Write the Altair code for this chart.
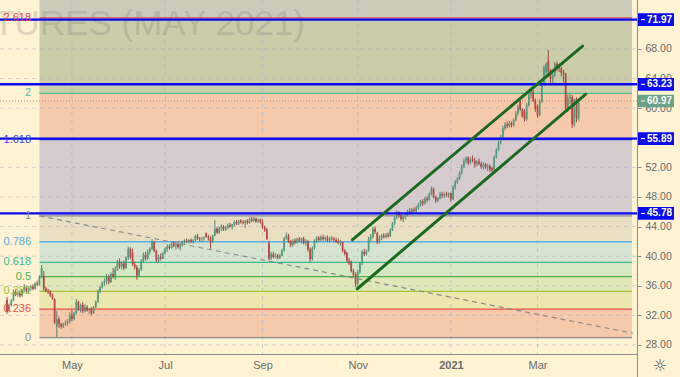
import altair as alt
import pandas as pd

# ---------------- data ----------------
bar_open = [
    34.1, 32.6, 33.4, 34.0, 35.2, 34.8, 35.1, 34.7, 35.4, 35.8,
    35.2, 35.6, 35.9, 35.6, 36.3, 36.1, 37.2, 37.3, 35.6, 35.3,
    35.2, 34.7, 34.2, 30.5, 31.5, 30.8, 30.5, 30.8, 31.0, 31.2,
    32.0, 31.5, 32.3, 33.8, 32.8, 33.4, 32.6, 33.1, 32.7, 32.9,
    32.3, 33.1, 33.8, 35.3, 35.8, 36.4, 36.7, 37.2, 36.5, 37.6,
    37.3, 38.3, 39.2, 38.6, 39.0, 38.4, 39.8, 41.0, 40.5, 38.9,
    38.5, 37.4, 38.2, 39.4, 40.2, 39.7, 40.6, 41.0, 41.9, 40.7,
    39.4, 39.9, 39.7, 40.4, 41.0, 41.3, 41.1, 41.7, 41.4, 41.6,
    41.2, 41.6, 41.9, 42.1, 42.0, 42.2, 41.9, 42.2, 42.7, 42.4,
    42.3, 42.4, 43.1, 42.6, 42.4, 42.0, 42.8, 43.7, 43.2, 43.8,
    44.0, 43.6, 43.9, 44.2, 44.0, 44.3, 44.6, 44.4, 44.8, 44.6,
    44.5, 44.7, 44.5, 45.0, 44.8, 45.1, 44.7, 44.9, 44.6, 43.9,
    43.6, 41.8, 39.7, 40.3, 39.9, 40.1, 39.8, 40.1, 40.8, 42.4,
    42.8, 42.0, 41.5, 42.1, 41.8, 42.3, 42.1, 42.4, 41.8, 42.0,
    40.9, 39.6, 41.1, 42.0, 42.5, 42.2, 42.6, 42.3, 42.5, 42.1,
    42.4, 42.3, 42.2, 42.0, 41.8, 41.9, 40.7, 40.4, 39.4, 39.2,
    38.0, 37.6, 36.3, 37.9, 39.0, 40.6, 40.3, 40.7, 42.3, 42.6,
    43.7, 43.1, 41.9, 42.5, 42.8, 42.6, 42.9, 42.7, 43.5, 44.4,
    45.2, 45.9, 45.6, 45.0, 45.3, 45.6, 46.1, 45.9, 46.3, 46.1,
    46.6, 47.0, 47.4, 47.1, 47.8, 47.6, 48.4, 49.1, 48.0, 47.5,
    47.8, 48.4, 48.2, 48.4, 48.3, 48.5, 47.7, 49.3, 50.0, 50.5,
    51.2, 52.1, 52.9, 53.3, 52.6, 53.1, 52.9, 52.4, 52.8, 52.5,
    52.1, 52.4, 52.0, 52.2, 51.9, 51.6, 53.4, 54.4, 55.3, 56.1,
    57.3, 57.8, 57.6, 58.0, 57.7, 58.4, 59.3, 61.0, 59.8, 59.6,
    58.5, 60.4, 61.8, 62.2, 61.0, 60.3, 59.0, 60.9, 63.3, 64.8,
    66.4, 65.0, 64.0, 64.4, 66.0, 65.6, 65.4, 64.8, 64.6, 60.0,
    61.4, 61.5, 57.8, 61.2, 58.6,
]
bar_high = [
    34.5, 33.6, 34.2, 35.5, 35.6, 35.3, 35.4, 35.6, 36.2, 36.0,
    35.8, 36.1, 36.2, 36.5, 36.7, 37.4, 38.8, 38.0, 35.9, 35.6,
    35.4, 35.0, 34.3, 32.6, 31.8, 31.0, 31.0, 31.3, 31.5, 32.4,
    32.8, 32.5, 34.2, 34.0, 33.6, 33.8, 33.5, 33.4, 33.0, 33.1,
    33.3, 34.0, 35.5, 36.0, 36.6, 37.0, 37.6, 37.5, 37.8, 38.4,
    38.6, 39.5, 39.7, 39.3, 39.4, 40.0, 41.3, 41.2, 41.0, 39.3,
    38.8, 38.4, 39.6, 40.5, 40.6, 40.9, 41.2, 42.3, 42.0, 40.9,
    40.2, 40.4, 40.6, 41.2, 41.6, 41.6, 41.9, 42.0, 41.8, 42.0,
    41.8, 42.1, 42.3, 42.4, 42.3, 42.4, 42.3, 42.9, 43.0, 42.6,
    42.6, 42.7, 43.2, 42.9, 42.7, 42.9, 44.9, 43.9, 44.0, 44.3,
    44.2, 44.1, 44.4, 44.5, 44.4, 44.8, 44.9, 44.9, 45.0, 44.9,
    44.9, 45.0, 45.2, 45.3, 45.3, 45.2, 45.1, 45.1, 45.0, 44.1,
    43.8, 42.0, 40.6, 40.6, 40.4, 40.3, 40.3, 41.0, 42.6, 43.2,
    43.0, 42.2, 42.3, 42.4, 42.5, 42.6, 42.5, 42.6, 42.3, 42.2,
    41.2, 41.3, 42.3, 42.7, 42.7, 42.8, 42.9, 42.7, 42.8, 42.6,
    42.7, 42.6, 42.5, 42.4, 42.2, 42.0, 41.0, 40.6, 39.8, 39.4,
    38.3, 37.8, 38.2, 39.2, 40.8, 41.0, 40.9, 42.6, 43.0, 44.0,
    44.0, 43.3, 42.8, 43.0, 43.1, 43.1, 43.2, 43.8, 44.6, 45.4,
    46.2, 46.1, 45.8, 45.5, 45.8, 46.3, 46.5, 46.5, 46.6, 46.8,
    47.2, 47.6, 47.7, 48.0, 48.1, 48.6, 49.4, 49.3, 48.2, 48.0,
    48.7, 48.7, 48.6, 48.7, 48.6, 48.6, 49.6, 50.3, 50.7, 51.5,
    52.4, 53.2, 53.5, 53.5, 53.4, 53.6, 53.3, 53.0, 53.2, 52.8,
    52.7, 52.6, 52.5, 52.4, 52.1, 53.6, 54.6, 55.6, 56.4, 57.6,
    58.1, 58.2, 58.3, 58.2, 58.6, 59.6, 60.5, 61.3, 60.0, 59.9,
    60.7, 62.1, 62.8, 62.5, 61.3, 60.5, 61.2, 63.5, 65.8, 66.2,
    67.9, 65.3, 64.8, 66.2, 66.3, 66.0, 65.6, 65.2, 64.8, 61.9,
    62.0, 61.8, 61.3, 61.5, 61.1,
]
bar_low = [
    32.2, 32.4, 33.2, 33.9, 34.6, 34.5, 34.4, 34.5, 35.1, 35.0,
    34.9, 35.3, 35.4, 35.5, 35.9, 36.0, 37.0, 35.3, 35.1, 34.9,
    34.5, 34.1, 30.8, 29.0, 30.3, 30.2, 30.3, 30.6, 30.6, 30.9,
    31.2, 31.3, 32.1, 32.6, 32.4, 32.3, 32.4, 32.5, 32.2, 32.0,
    32.2, 33.0, 33.7, 35.0, 35.6, 36.0, 36.2, 36.2, 36.4, 37.0,
    36.8, 38.0, 38.3, 38.2, 38.1, 38.3, 39.5, 39.6, 38.7, 38.2,
    36.8, 37.2, 38.0, 39.2, 39.4, 39.5, 40.2, 40.8, 40.5, 39.2,
    39.1, 39.4, 39.6, 40.2, 40.6, 40.9, 41.0, 41.2, 40.9, 41.0,
    40.8, 41.3, 41.7, 41.8, 41.7, 41.8, 41.7, 42.0, 42.2, 42.0,
    42.0, 42.1, 42.5, 42.1, 41.0, 41.8, 42.7, 43.0, 43.0, 43.4,
    43.4, 43.4, 43.6, 43.8, 43.6, 44.0, 44.2, 44.2, 44.4, 44.3,
    43.8, 44.3, 44.4, 44.6, 44.6, 44.5, 44.5, 44.4, 43.7, 43.3,
    42.2, 39.4, 39.5, 39.7, 39.7, 39.6, 39.6, 40.0, 40.6, 42.2,
    41.8, 41.2, 41.3, 41.6, 41.7, 41.9, 41.7, 41.6, 41.4, 40.6,
    39.2, 39.4, 40.9, 41.8, 42.0, 42.0, 42.1, 42.0, 41.9, 41.9,
    42.1, 41.9, 41.8, 41.6, 41.4, 40.5, 40.1, 39.2, 38.8, 37.8,
    37.2, 35.8, 35.9, 37.6, 38.8, 40.0, 40.1, 40.6, 42.0, 42.4,
    43.0, 41.6, 41.7, 42.2, 42.4, 42.4, 42.5, 42.6, 43.4, 44.2,
    45.0, 45.2, 44.8, 44.6, 45.0, 45.4, 45.7, 45.6, 45.9, 45.9,
    46.3, 46.7, 46.8, 47.0, 47.3, 47.5, 48.2, 47.8, 47.2, 47.3,
    47.7, 47.9, 47.9, 48.0, 47.9, 47.4, 47.6, 49.0, 49.8, 50.3,
    51.0, 51.9, 52.5, 52.3, 52.4, 52.7, 52.0, 52.1, 52.3, 51.8,
    51.7, 51.8, 51.5, 51.4, 51.3, 51.5, 53.2, 54.2, 55.1, 55.9,
    57.0, 57.3, 57.4, 57.4, 57.5, 58.2, 59.0, 59.6, 58.7, 58.2,
    58.3, 60.2, 61.3, 60.8, 59.5, 58.7, 58.9, 60.7, 63.1, 64.5,
    64.6, 63.2, 63.3, 64.2, 65.0, 64.9, 64.3, 63.5, 59.7, 59.5,
    60.5, 57.3, 57.5, 58.1, 58.3,
]
bar_close = [
    32.5, 33.4, 34.0, 35.2, 34.8, 35.1, 34.7, 35.4, 35.8, 35.2,
    35.6, 35.9, 35.6, 36.3, 36.1, 37.2, 38.4, 35.6, 35.3, 35.2,
    34.7, 34.3, 31.0, 31.5, 30.8, 30.5, 30.8, 31.0, 31.2, 32.0,
    31.5, 32.3, 33.8, 32.8, 33.4, 32.6, 33.1, 32.7, 32.9, 32.3,
    33.1, 33.8, 35.3, 35.8, 36.4, 36.7, 37.2, 36.5, 37.6, 37.3,
    38.3, 39.2, 38.6, 39.0, 38.4, 39.8, 41.0, 39.9, 38.9, 38.5,
    37.4, 38.2, 39.4, 40.2, 39.7, 40.6, 41.0, 41.9, 40.7, 39.4,
    39.9, 39.7, 40.4, 41.0, 41.3, 41.1, 41.7, 41.4, 41.6, 41.2,
    41.6, 41.9, 42.1, 42.0, 42.2, 41.9, 42.2, 42.7, 42.4, 42.3,
    42.4, 42.5, 42.6, 42.4, 42.0, 42.8, 43.7, 43.2, 43.8, 44.0,
    43.6, 43.9, 44.2, 44.0, 44.3, 44.6, 44.4, 44.8, 44.6, 44.5,
    44.7, 44.5, 45.0, 44.8, 45.1, 44.7, 44.9, 44.6, 43.9, 43.5,
    42.3, 39.7, 40.3, 39.9, 40.1, 39.8, 40.1, 40.8, 42.4, 42.8,
    42.0, 41.5, 42.1, 41.8, 42.3, 42.1, 42.4, 41.8, 42.0, 40.9,
    39.6, 41.1, 42.0, 42.5, 42.2, 42.6, 42.3, 42.5, 42.1, 42.4,
    42.3, 42.2, 42.0, 41.8, 41.9, 40.7, 40.3, 39.4, 39.0, 38.0,
    37.5, 36.3, 37.9, 39.0, 40.6, 40.3, 40.7, 42.3, 42.6, 43.7,
    43.3, 41.9, 42.5, 42.8, 42.6, 42.9, 42.7, 43.5, 44.4, 45.2,
    45.9, 45.5, 45.0, 45.3, 45.6, 46.1, 45.9, 46.3, 46.1, 46.6,
    47.0, 47.4, 47.1, 47.8, 47.6, 48.4, 49.1, 48.0, 47.5, 47.8,
    48.4, 48.2, 48.4, 48.3, 48.5, 47.7, 49.3, 50.0, 50.5, 51.2,
    52.1, 52.9, 53.2, 52.6, 53.1, 52.9, 52.4, 52.8, 52.5, 52.1,
    52.4, 52.0, 52.2, 51.7, 51.6, 53.4, 54.4, 55.3, 56.1, 57.3,
    57.8, 57.6, 58.0, 57.7, 58.4, 59.3, 60.2, 59.8, 58.9, 58.5,
    60.4, 61.8, 62.4, 61.0, 59.9, 59.0, 60.9, 63.3, 65.5, 66.0,
    64.9, 64.0, 64.4, 66.0, 65.6, 65.4, 64.8, 64.6, 60.0, 61.4,
    61.5, 57.8, 61.2, 58.6, 60.97,
]

month_ticks = [30, 73, 118, 162, 205, 245]          # bar index of first session
month_labels = ["May", "Jul", "Sep", "Nov", "2021", "Mar"]
price_ticks = [28, 32, 36, 40, 44, 48, 52, 56, 60, 64, 68, 72]

fib_ratios = ["0", "0.236", "0.382", "0.5", "0.618", "0.786", "1", "1.618", "2", "2.618"]
fib_prices = [29.0, 32.85, 35.25, 37.25, 39.15, 41.95, 45.45, 55.75, 62.0, 72.2]
fib_colors = ["#8A8D96", "#E8504A", "#A5C43A", "#4CAF50", "#3DB98E",
              "#5AAEE0", "#8A8D96", "#3348E0", "#45BF94", "#E04848"]
zone_colors = ["#F6C9AA", "#ECE7AD", "#DFE8B6", "#D5E8C4", "#D6E4CF",
               "#E8DFC3", "#D6CBCD", "#F5C9AA", "#CBCCA9", "#CCCBBA"]
fib_start = 15            # bar index where the fibonacci drawing begins

level_prices = [71.97, 63.23, 55.89, 45.78]
level_labels = ["71.97", "63.23", "55.89", "45.78"]
last_price = 60.97

trend_i = [15, 289]
trend_p = [45.45, 29.6]
chan_name = ["upper", "upper", "lower", "lower"]
chan_i = [159.5, 265.8, 161.8, 267.3]
chan_p = [42.2, 68.4, 35.6, 61.9]

# ---------------- tables ----------------
bars = pd.DataFrame({"o": bar_open, "h": bar_high, "l": bar_low, "c": bar_close})
bars["i"] = range(len(bars))

X_DOM = [-0.91, 288.64]
Y_DOM = [26.78, 74.62]
XS = alt.Scale(domain=X_DOM, nice=False, zero=False)
YS = alt.Scale(domain=Y_DOM, nice=False, zero=False)
W, H = 637, 354

label_expr = "".join(f"datum.value == {v} ? '{l}' : " for v, l in zip(month_ticks, month_labels)) + "''"
AXX = alt.Axis(
    orient="bottom", values=month_ticks, labelExpr=label_expr, grid=False,
    domain=False, ticks=False, labelPadding=5, labelFontSize=11,
    labelColor="#6A6A6A", labelFont="Liberation Sans",
    labelFontWeight={"condition": {"test": "datum.value == 205", "value": "bold"}, "value": "normal"},
)
AXY = alt.Axis(
    orient="right", values=price_ticks, format=".2f", grid=False, domain=False,
    tickSize=4, tickColor="#8A8A8A", labelPadding=4, labelFontSize=10.5,
    labelColor="#6A6A6A", labelFont="Liberation Sans",
)


def X(field):
    return alt.X(field, scale=XS, axis=AXX, title=None)


def Y(field):
    return alt.Y(field, scale=YS, axis=AXY, title=None)


zones = pd.DataFrame({
    "lo": fib_prices,
    "hi": fib_prices[1:] + [80.0],
    "col": zone_colors,
    "x0": [fib_start] * len(fib_prices),
    "x1": [X_DOM[1]] * len(fib_prices),
})
fibs = pd.DataFrame({
    "p": fib_prices, "r": fib_ratios, "col": fib_colors,
    "x0": [fib_start] * len(fib_prices), "x1": [X_DOM[1]] * len(fib_prices),
})

up_col, dn_col = "#4E9C7C", "#B8423F"
up_wick, dn_wick = "#5E8070", "#9A4A48"
is_up = "datum.c >= datum.o"

zone_layer = alt.Chart(zones).mark_rect(clip=True).encode(
    x=X("x0:Q"), x2="x1:Q", y=Y("lo:Q"), y2="hi:Q",
    color=alt.Color("col:N", scale=None),
)

grid_h = alt.Chart(pd.DataFrame({"p": price_ticks})).mark_rule(
    color="#AEB3C6", opacity=0.55, strokeDash=[4, 4], strokeWidth=1
).encode(y=Y("p:Q"), x=alt.value(0), x2=alt.value(W))

grid_v = alt.Chart(pd.DataFrame({"m": month_ticks})).mark_rule(
    color="#AEB3C6", opacity=0.55, strokeDash=[4, 4], strokeWidth=1
).encode(x=X("m:Q"), y=alt.value(0), y2=alt.value(H))

fib_lines = alt.Chart(fibs).mark_rule(strokeWidth=1.3, clip=True).encode(
    x=X("x0:Q"), x2="x1:Q", y=Y("p:Q"),
    color=alt.Color("col:N", scale=None),
)

fib_text = alt.Chart(fibs).mark_text(
    align="right", baseline="middle", fontSize=11, font="Liberation Sans"
).encode(
    x=alt.value(31), y=Y("p:Q"),
    text="r:N", color=alt.Color("col:N", scale=None),
)

watermark = alt.Chart(pd.DataFrame({"t": ["FUTURES (MAY 2021)"]})).mark_text(
    align="right", baseline="alphabetic", fontSize=35, font="Liberation Sans",
    color="#707070", opacity=0.22, clip=True
).encode(x=alt.value(305), y=alt.value(35), text="t:N")

trend = alt.Chart(pd.DataFrame({"i": trend_i, "p": trend_p})).mark_line(
    color="#8C8C8C", strokeDash=[5, 4], strokeWidth=1.2, clip=True
).encode(x=X("i:Q"), y=Y("p:Q"))

last_line = alt.Chart(pd.DataFrame({"p": [last_price]})).mark_rule(
    color="#C08A6C", strokeDash=[1, 2], strokeWidth=1
).encode(y=Y("p:Q"), x=alt.value(0), x2=alt.value(W))

wicks = alt.Chart(bars).mark_rule(strokeWidth=1).encode(
    x=X("i:Q"), y=Y("l:Q"), y2="h:Q",
    color=alt.condition(is_up, alt.value(up_wick), alt.value(dn_wick)),
)
bodies = alt.Chart(bars).mark_bar(size=1.7).encode(
    x=X("i:Q"), y=Y("o:Q"), y2="c:Q",
    color=alt.condition(is_up, alt.value(up_col), alt.value(dn_col)),
)

blue_lines = alt.Chart(pd.DataFrame({"p": level_prices})).mark_rule(
    color="#0A0AF0", strokeWidth=2.4
).encode(y=Y("p:Q"), x=alt.value(0), x2=alt.value(W))

channel = alt.Chart(pd.DataFrame({"n": chan_name, "i": chan_i, "p": chan_p})).mark_line(
    color="#1C6A20", strokeWidth=3, strokeCap="round"
).encode(x=X("i:Q"), y=Y("p:Q"), detail="n:N")

axis_v = alt.Chart(pd.DataFrame({"k": [0]})).mark_rule(color="#8E8E8E", strokeWidth=1).encode(
    x=alt.value(W + 0.5), y=alt.value(0), y2=alt.value(377))
axis_h = alt.Chart(pd.DataFrame({"k": [0]})).mark_rule(color="#8E8E8E", strokeWidth=1).encode(
    x=alt.value(0), x2=alt.value(W), y=alt.value(H + 0.5))

# price tags ---------------------------------------------------------
tags = pd.DataFrame({
    "p": level_prices + [last_price],
    "t": level_labels + [f"{last_price:.2f}"],
    "col": ["#0A0AF0"] * 4 + ["#6AA287"],
})
tags["lo"] = tags["p"] - 0.86
tags["hi"] = tags["p"] + 0.86
tag_rect = alt.Chart(tags).mark_rect().encode(
    x=alt.value(638), x2=alt.value(674),
    y=Y("lo:Q"), y2="hi:Q",
    color=alt.Color("col:N", scale=None),
)
tag_tick = alt.Chart(tags).mark_rule(color="white", strokeWidth=1).encode(
    x=alt.value(641), x2=alt.value(645), y=Y("p:Q")
)
tag_text = alt.Chart(tags).mark_text(
    align="left", baseline="middle", color="white", fontWeight="bold",
    fontSize=10, font="Liberation Sans"
).encode(x=alt.value(647), y=Y("p:Q"), text="t:N")

gear = alt.Chart(pd.DataFrame({"t": ["☼"]})).mark_text(
    fontSize=16, color="#555555", font="DejaVu Sans", baseline="middle"
).encode(x=alt.value(660), y=alt.value(366), text="t:N")

chart = alt.layer(
    zone_layer, grid_h, grid_v, watermark, fib_lines, trend,
    last_line, wicks, bodies, blue_lines, channel, fib_text,
    axis_v, axis_h, tag_rect, tag_tick, tag_text, gear,
).properties(
    width=W, height=H,
    autosize=alt.AutoSizeParams(type="none"),
    padding={"left": 0, "top": 0, "right": 43, "bottom": 23},
    background="#FFF3D3",
).configure_view(stroke=None)

chart.save("out.html", embed_options={"renderer": "svg", "actions": False})
